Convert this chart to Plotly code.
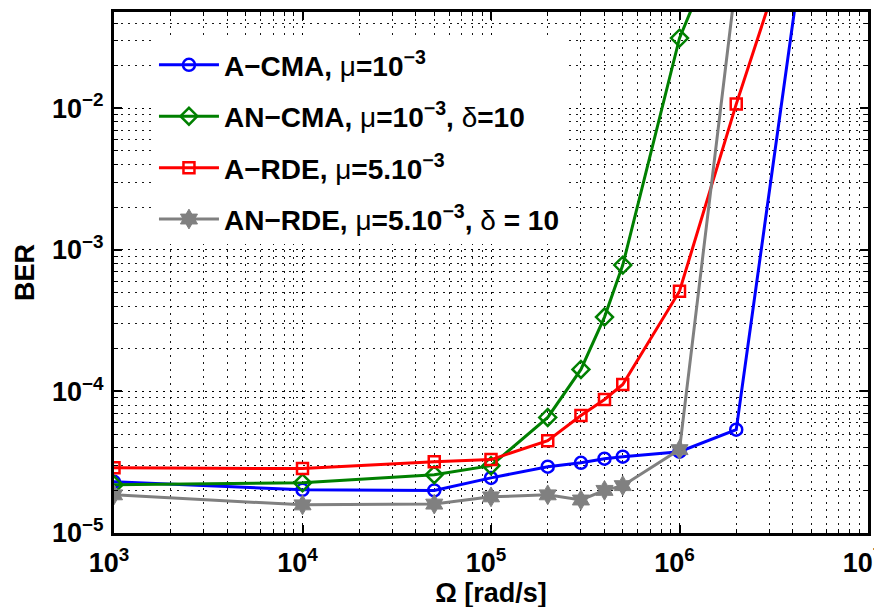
import plotly.graph_objects as go

# Data
omega = [1e3, 1e4, 5e4, 1e5, 2e5, 3e5, 4e5, 5e5, 1e6, 2e6, 5e6]
ber_acma = [2.30e-5, 2.02e-5, 2.00e-5, 2.45e-5, 2.94e-5, 3.13e-5, 3.35e-5, 3.46e-5, 3.75e-5, 5.37e-5, 0.35]
omega_ancma = [1e3, 1e4, 5e4, 1e5, 2e5, 3e5, 4e5, 5e5, 1e6, 2e6]
ber_ancma = [2.19e-5, 2.26e-5, 2.58e-5, 2.99e-5, 6.55e-5, 1.43e-4, 3.35e-4, 7.8e-4, 0.0313, 0.29]
ber_ardo = [2.89e-5, 2.85e-5, 3.19e-5, 3.30e-5, 4.49e-5, 6.76e-5, 8.77e-5, 1.12e-4, 5.1e-4, 0.0107, 0.45]
omega_anrde = [1e3, 1e4, 5e4, 1e5, 2e5, 3e5, 4e5, 5e5, 1e6, 2e6]
ber_anrde = [1.86e-5, 1.58e-5, 1.60e-5, 1.80e-5, 1.86e-5, 1.71e-5, 2.00e-5, 2.16e-5, 3.88e-5, 0.082]

N = "<span style='font-weight:normal'>"
names = [
    f"A−CMA, {N}μ</span>=10<sup>−3</sup>",
    f"AN−CMA, {N}μ</span>=10<sup>−3</sup>, {N}δ</span>=10",
    f"A−RDE, {N}μ</span>=5.10<sup>−3</sup>",
    f"AN−RDE, {N}μ</span>=5.10<sup>−3</sup>, {N}δ</span> = 10",
]
xticks = [1e3, 1e4, 1e5, 1e6, 1e7]
xticktext = ["10<sup>3</sup>", "10<sup>4</sup>", "10<sup>5</sup>", "10<sup>6</sup>", "10<sup>7</sup>"]
yticks = [1e-5, 1e-4, 1e-3, 1e-2]
yticktext = ["10<sup>−5</sup>", "10<sup>−4</sup>", "10<sup>−3</sup>", "10<sup>−2</sup>"]

FONT = "Liberation Sans, Arial, Helvetica, sans-serif"
FS = 27

fig = go.Figure()
series = [
    (omega, ber_acma, "#0000FF", "circle-open", 12, 2.5),
    (omega_ancma, ber_ancma, "#008000", "diamond-open", 13, 2.5),
    (omega, ber_ardo, "#FF0000", "square-open", 11, 2.5),
    (omega_anrde, ber_anrde, "#808080", "hexagram", 15, 1),
]
for i, (xs, ys, col, sym, ms, mlw) in enumerate(series):
    fig.add_trace(go.Scatter(
        x=xs, y=ys, mode="lines+markers", name=names[i], legendgroup=f"g{i}",
        line=dict(color=col, width=3),
        marker=dict(symbol=sym, size=ms, color=col, line=dict(color=col, width=mlw)),
    ))

griddash = "2px,5px"
axis_common = dict(
    type="log", showline=True, linecolor="black", linewidth=3, mirror="allticks",
    ticks="inside", ticklen=8, tickwidth=2, tickcolor="black",
    showgrid=True, gridcolor="rgba(0,0,0,0.9)", gridwidth=1, griddash=griddash,
    zeroline=False, automargin=False,
    tickfont=dict(family=FONT, size=FS, color="black", weight="bold"),
    minor=dict(dtick="D1", ticks="inside", ticklen=4, tickcolor="black", tickwidth=1,
               showgrid=True, gridcolor="rgba(0,0,0,0.9)", gridwidth=1, griddash=griddash),
)
fig.update_xaxes(
    **axis_common, range=[3, 7], tickmode="array", tickvals=xticks, ticktext=xticktext,
    ticklabelstandoff=4, ticklabelshift=-5,
    title=dict(text="Ω [rad/s]", font=dict(family=FONT, size=FS, color="black", weight="bold"), standoff=0),
)
fig.update_yaxes(
    **axis_common, range=[-5, -1.32], tickmode="array", tickvals=yticks, ticktext=yticktext,
    ticklabelstandoff=2,
    title=dict(text="BER", font=dict(family=FONT, size=FS, color="black", weight="bold"), standoff=10),
)
fig.update_layout(
    width=882, height=607,
    margin=dict(l=106, r=22, t=4, b=82),
    paper_bgcolor="white", plot_bgcolor="white",
    font=dict(family=FONT, color="black"),
    showlegend=True,
    legend=dict(
        x=0.053, y=0.946, xanchor="left", yanchor="top",
        bgcolor="white", borderwidth=0,
        font=dict(family=FONT, size=28, color="black", weight="bold"),
        tracegroupgap=12, itemwidth=60,
    ),
)
fig.write_html("out.html")
